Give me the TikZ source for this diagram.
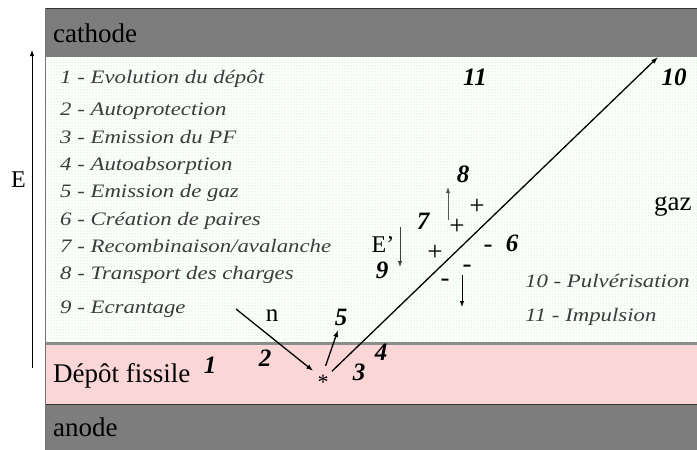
\documentclass[tikz,border=0pt]{standalone}
\usepackage{fontspec}
\setmainfont{Liberation Serif}
\newfontfamily\listfont[FakeStretch=1.2]{Liberation Serif}
\usetikzlibrary{patterns,arrows.meta}
\definecolor{electrode}{RGB}{125,125,125}
\definecolor{depot}{RGB}{250,214,214}
\definecolor{gasdot}{RGB}{150,228,150}
\definecolor{listtext}{RGB}{60,60,60}
\tikzset{
  bigtext/.style={font=\fontsize{27}{30}\selectfont, inner sep=0pt, anchor=base west},
  listitem/.style={font=\listfont\itshape\fontsize{19}{22}\selectfont, text=listtext, inner sep=0pt, anchor=base west},
  num/.style={font=\bfseries\itshape\fontsize{25}{27}\selectfont, inner sep=0pt},
  charge/.style={font=\fontsize{27}{29}\selectfont, inner sep=0pt},
  mainarrow/.style={line width=1.3pt, -{Latex[length=7pt,width=5pt]}},
  thinarrow/.style={line width=0.9pt, -{Latex[length=6pt,width=4.5pt]}},
}
\begin{document}
\begin{tikzpicture}[x=1pt,y=-1pt]
\useasboundingbox (0,0) rectangle (697,450);
% layers
\fill[electrode] (45,8) rectangle (697,57);
\fill[white] (45,57) rectangle (697,343);
\fill[pattern=dots, pattern color=gasdot] (45,57) rectangle (697,343);
\fill[depot] (45,343) rectangle (697,404);
\fill[electrode] (45,404) rectangle (697,450);
\draw[black!80, line width=1pt] (45,8) -- (697,8);
\draw[black!45, line width=3pt] (45,343) -- (697,343);
\draw[black!80, line width=1pt] (45,404) -- (697,404);
\draw[black!55, line width=1pt] (45,8) -- (45,450);

% labels of layers
\node[bigtext] (cathode) at (53,42) {cathode};
\node[bigtext] (depotlbl) at (53,382) {Dépôt fissile};
\node[bigtext] (anode) at (53,436) {anode};
\node[bigtext] (gaz) at (654,210) {gaz};

% field E
\coordinate (Ebot) at (32,368);
\coordinate (Etop) at (32,50);
\draw[line width=0.8pt, -{Latex[length=6pt,width=4.5pt]}] (Ebot) -- (Etop);
\node[font=\fontsize{24}{26}\selectfont, inner sep=0pt, anchor=base west] (E) at (11,187) {E};

% list
\node[listitem] (l1) at (60,83) {1 - Evolution du dépôt};
\node[listitem] (l2) at (60,115) {2 - Autoprotection};
\node[listitem] (l3) at (60,143) {3 - Emission du PF};
\node[listitem] (l4) at (60,170) {4 - Autoabsorption};
\node[listitem] (l5) at (60,197) {5 - Emission de gaz};
\node[listitem] (l6) at (60,225) {6 - Création de paires};
\node[listitem] (l7) at (60,252) {7 - Recombinaison/avalanche};
\node[listitem] (l8) at (60,279) {8 - Transport des charges};
\node[listitem] (l9) at (60,313) {9 - Ecrantage};
\node[listitem] (l10) at (525,287) {10 - Pulvérisation};
\node[listitem] (l11) at (525,321) {11 - Impulsion};

% bold numbers
\node[num] (n11) at (475,77) {11};
\node[num] (n10) at (674,77) {10};
\node[num] (n8) at (463,174) {8};
\node[num] (n7) at (423,221) {7};
\node[num] (n9) at (382,270) {9};
\node[num] (n6) at (512,243) {6};
\node[num] (n5) at (341,317) {5};
\node[num] (n2) at (265,358) {2};
\node[num] (n3) at (359,372) {3};
\node[num] (n4) at (381,352) {4};
\node[num] (n1) at (210,365) {1};

% charges
\node[charge] (p1) at (477,207) {+};
\node[charge] (p2) at (457,227) {+};
\node[charge] (p3) at (435,253) {+};
\node[charge] (m1) at (488,249) {-};
\node[charge] (m2) at (467,269) {-};
\node[charge] (m3) at (445,283) {-};
\node[font=\fontsize{24}{26}\selectfont, inner sep=0pt] (Ep) at (383,245) {E’};
\node[font=\fontsize{25}{27}\selectfont, inner sep=0pt] (nlbl) at (272,316) {n};

% impact point
\node[font=\fontsize{22}{24}\selectfont, inner sep=1pt, anchor=base] (star) at (323,389) {*};

% neutron
\coordinate (nstart) at (236,309);
\draw[mainarrow, shorten >=4pt] (nstart) -- (star.north west);
% gas emission
\coordinate (t5) at (338,330);
\draw[mainarrow, shorten <=8pt] (star.north) -- (t5);
% fission fragment
\coordinate (t10) at (658,57);
\draw[mainarrow, shorten <=3pt] (star.north east) -- (t10);

% charge transport
\coordinate (a8s) at (448,220);
\coordinate (a8e) at (448,187);
\draw[thinarrow, black!65] (a8s) -- (a8e);
\coordinate (aEs) at (400,227);
\coordinate (aEe) at (400,267);
\draw[thinarrow, black!75] (aEs) -- (aEe);
\coordinate (ams) at (462,275);
\coordinate (ame) at (462,307);
\draw[thinarrow] (ams) -- (ame);
\end{tikzpicture}
\end{document}
